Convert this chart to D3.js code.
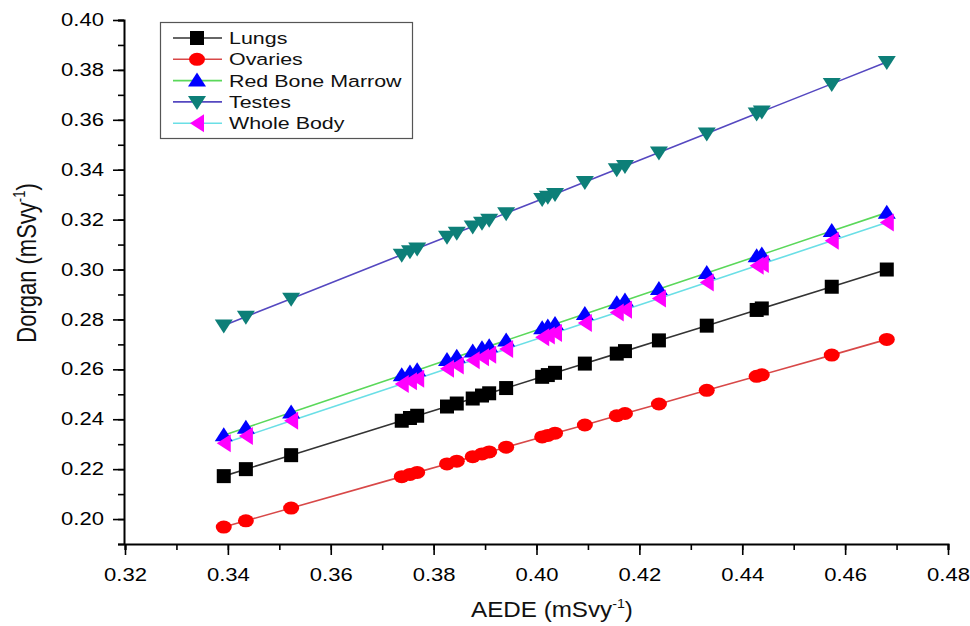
<!DOCTYPE html>
<html>
<head>
<meta charset="utf-8">
<script src="https://cdn.jsdelivr.net/npm/d3@7"></script>
<style>
  html, body { margin: 0; padding: 0; background: #fff; }
  svg { display: block; }
  text { font-family: "Liberation Sans", Arial, sans-serif; }
</style>
</head>
<body>
<svg id="chart" width="970" height="626"></svg>
<script>
// ---- data ----
const aede = [0.3392, 0.3435, 0.3523, 0.3738, 0.3754, 0.3768, 0.3826, 0.3845, 0.3876, 0.3894, 0.3908, 0.3941,
              0.4011, 0.4022, 0.4036, 0.4094, 0.4156, 0.4172, 0.4238, 0.4331, 0.4428, 0.4438, 0.4574, 0.4681];
const lungs = [0.2172, 0.2200, 0.2256, 0.2394, 0.2405, 0.2414, 0.2451, 0.2463, 0.2483, 0.2495, 0.2504, 0.2525,
               0.2570, 0.2577, 0.2586, 0.2623, 0.2663, 0.2673, 0.2716, 0.2775, 0.2838, 0.2844, 0.2931, 0.3000];
const ovaries = [0.1968, 0.1993, 0.2044, 0.2170, 0.2179, 0.2187, 0.2221, 0.2232, 0.2250, 0.2261, 0.2269, 0.2288,
                 0.2329, 0.2335, 0.2344, 0.2377, 0.2414, 0.2423, 0.2461, 0.2516, 0.2572, 0.2578, 0.2657, 0.2720];
const redBoneMarrow = [0.2336, 0.2366, 0.2427, 0.2576, 0.2587, 0.2596, 0.2637, 0.2650, 0.2671, 0.2684, 0.2693, 0.2716,
                       0.2765, 0.2772, 0.2782, 0.2822, 0.2865, 0.2876, 0.2922, 0.2986, 0.3053, 0.3060, 0.3154, 0.3228];
const testes = [0.2776, 0.2811, 0.2883, 0.3059, 0.3073, 0.3084, 0.3131, 0.3147, 0.3172, 0.3187, 0.3199, 0.3226,
                0.3283, 0.3292, 0.3303, 0.3351, 0.3402, 0.3415, 0.3469, 0.3545, 0.3625, 0.3633, 0.3744, 0.3832];
const wholeBody = [0.2304, 0.2333, 0.2394, 0.2541, 0.2552, 0.2562, 0.2602, 0.2615, 0.2636, 0.2648, 0.2658, 0.2681,
                   0.2729, 0.2736, 0.2746, 0.2786, 0.2828, 0.2839, 0.2884, 0.2948, 0.3015, 0.3022, 0.3115, 0.3188];
const seriesNames = ["Lungs", "Ovaries", "Red Bone Marrow", "Testes", "Whole Body"];
const xTicks = [0.32, 0.34, 0.36, 0.38, 0.40, 0.42, 0.44, 0.46, 0.48];
const yTicks = [0.20, 0.22, 0.24, 0.26, 0.28, 0.30, 0.32, 0.34, 0.36, 0.38, 0.40];
const xTitle = "AEDE (mSvy";
const yTitle = "Dorgan (mSvy";

// ---- styles ----
const styles = {
  "Lungs":           { line: "#333333", fill: "#000000", shape: "square" },
  "Ovaries":         { line: "#d84848", fill: "#ff0000", shape: "circle" },
  "Red Bone Marrow": { line: "#5ad85a", fill: "#0000ff", shape: "up" },
  "Testes":          { line: "#5548c0", fill: "#0d7f78", shape: "down" },
  "Whole Body":      { line: "#6adfe6", fill: "#ff00ff", shape: "left" }
};
const values = [lungs, ovaries, redBoneMarrow, testes, wholeBody];
const SX = 1.26; // horizontal stretch seen in the reference text

const svg = d3.select("#chart");
const x = d3.scaleLinear().domain([0.32, 0.48]).range([125, 948]);
const y = d3.scaleLinear().domain([0.19, 0.40]).range([544, 20]);

function markerPath(shape) {
  switch (shape) {
    case "square": return "M-7,-7H7V7H-7Z";
    case "up": return "M0,-8L9,6H-9Z";
    case "down": return "M0,8L9,-6H-9Z";
    case "left": return "M-7,0L7,-9V9Z";
  }
  return null;
}

// ---- axes ----
const minorX = d3.range(0.32, 0.4801, 0.01);
const minorY = d3.range(0.19, 0.4001, 0.01);

const gx = svg.append("g").attr("transform", "translate(0,544)");
gx.call(d3.axisBottom(x).tickValues(minorX).tickSize(6).tickFormat(""));
const gxm = gx.append("g").call(d3.axisBottom(x).tickValues(xTicks).tickSize(11).tickPadding(14).tickFormat(d3.format(".2f")));
const gy = svg.append("g").attr("transform", "translate(124,0)");
gy.call(d3.axisLeft(y).tickValues(minorY).tickSize(6).tickFormat(""));
const gym = gy.append("g").call(d3.axisLeft(y).tickValues(yTicks).tickSize(11).tickPadding(9).tickFormat(d3.format(".2f")));

svg.selectAll(".domain").attr("stroke", "#000").attr("stroke-width", 2);
svg.selectAll(".tick line").attr("stroke", "#000").attr("stroke-width", 1.6);
svg.selectAll(".tick text").attr("font-size", 17.5).attr("fill", "#000")
   .attr("font-family", "'Liberation Sans', Arial, sans-serif");
gym.selectAll(".tick text").attr("x", 0).attr("transform", `translate(-20,0) scale(${SX},1)`);
gxm.selectAll(".tick text").attr("transform", `scale(${SX},1)`);
gym.select(".domain").remove();
gxm.select(".domain").remove();

// axis titles
const xt = svg.append("text").attr("transform", "translate(552,617) scale(1.1,1)").attr("text-anchor", "middle")
  .attr("font-size", 22).attr("fill", "#111");
xt.append("tspan").text(xTitle);
xt.append("tspan").attr("dy", -9).attr("font-size", 13).text("-1");
xt.append("tspan").attr("dy", 9).text(")");

const yt = svg.append("text").attr("transform", `translate(36,263) scale(${SX},1) rotate(-90)`).attr("text-anchor", "middle")
  .attr("font-size", 22).attr("fill", "#111");
yt.append("tspan").text(yTitle);
yt.append("tspan").attr("dy", -9).attr("font-size", 13).text("-1");
yt.append("tspan").attr("dy", 9).text(")");

// ---- series ----
const line = d3.line().x(d => x(d[0])).y(d => y(d[1]));
seriesNames.forEach((name, i) => {
  const st = styles[name];
  const pts = aede.map((a, j) => [a, values[i][j]]);
  svg.append("path").datum(pts).attr("d", line).attr("fill", "none")
     .attr("stroke", st.line).attr("stroke-width", 1.6);
});
seriesNames.forEach((name, i) => {
  const st = styles[name];
  const pts = aede.map((a, j) => [a, values[i][j]]);
  const g = svg.append("g");
  if (st.shape === "circle") {
    g.selectAll("ellipse").data(pts).join("ellipse")
     .attr("cx", d => x(d[0])).attr("cy", d => y(d[1])).attr("rx", 8).attr("ry", 6.5).attr("fill", st.fill);
  } else {
    g.selectAll("path").data(pts).join("path")
     .attr("transform", d => `translate(${x(d[0])},${y(d[1])})`)
     .attr("d", markerPath(st.shape)).attr("fill", st.fill);
  }
});

// ---- legend ----
const lg = svg.append("g");
lg.append("rect").attr("x", 160.5).attr("y", 22.5).attr("width", 252).attr("height", 116)
  .attr("fill", "#fff").attr("stroke", "#555").attr("stroke-width", 1.2);
seriesNames.forEach((name, i) => {
  const st = styles[name];
  const cy = 38 + i * 21.3;
  lg.append("line").attr("x1", 173).attr("x2", 222).attr("y1", cy).attr("y2", cy)
    .attr("stroke", st.line).attr("stroke-width", 1.6);
  if (st.shape === "circle") {
    lg.append("ellipse").attr("cx", 197).attr("cy", cy).attr("rx", 8).attr("ry", 6.5).attr("fill", st.fill);
  } else {
    lg.append("path").attr("transform", `translate(197,${cy})`).attr("d", markerPath(st.shape)).attr("fill", st.fill);
  }
  lg.append("text").attr("transform", `translate(229,${cy + 6}) scale(${SX},1)`)
    .attr("font-size", 17).attr("fill", "#111").text(name);
});
</script>
</body>
</html>
